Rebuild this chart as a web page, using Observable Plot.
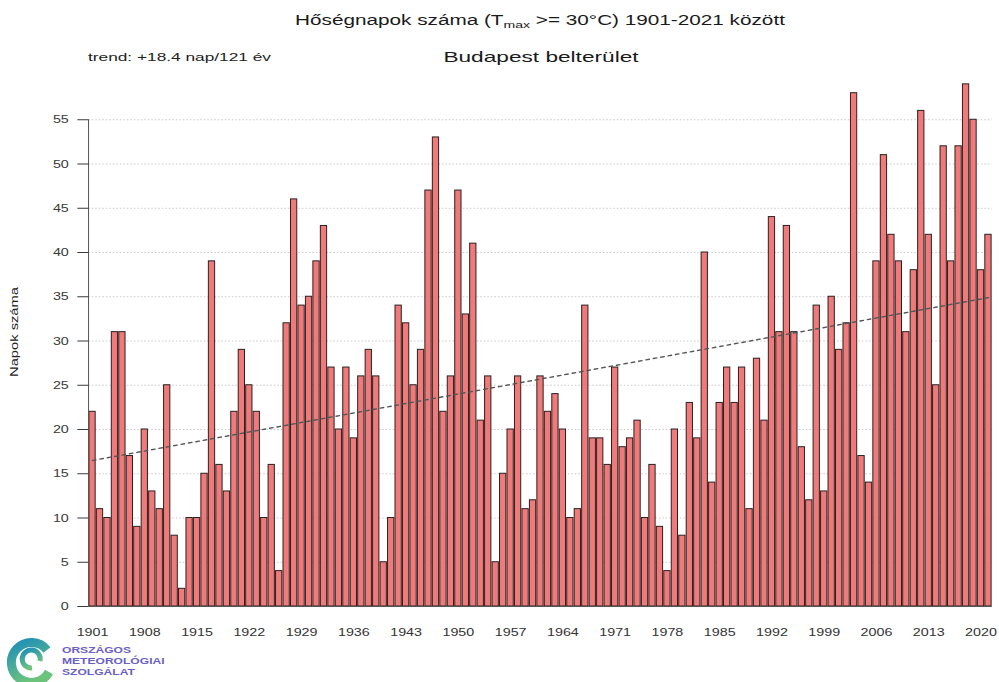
<!DOCTYPE html>
<html>
<head>
<meta charset="utf-8">
<script src="https://cdn.jsdelivr.net/npm/d3@7"></script>
<script src="https://cdn.jsdelivr.net/npm/@observablehq/plot@0.6"></script>
<style>
  html, body { margin: 0; padding: 0; background: #fff; }
  #wrap { position: relative; width: 999px; height: 682px; overflow: hidden; font-family: "Liberation Sans", Arial, sans-serif; }
  #chart { position: absolute; left: 0; top: 0; }
  .t { position: absolute; white-space: nowrap; color: #1a1a1a; }
  #title { left: 0; width: 1080px; text-align: center; top: 12px; font-size: 14px; transform: scaleX(1.48); transform-origin: 540px 0; }
  #title sub { font-size: 9.5px; vertical-align: -3px; line-height: 0; }
  #sub { left: 0; width: 1082px; text-align: center; top: 48px; font-size: 15px; transform: scaleX(1.51); transform-origin: 541px 0; }
  #trend { left: 88px; top: 51px; font-size: 11px; transform: scaleX(1.57); transform-origin: 0 0; color: #222; }
  #ylab { left: 14px; top: 332px; font-size: 10.5px; transform: translate(-50%, -50%) rotate(-90deg) scaleX(1.4); color: #222; }
  #logo { position: absolute; left: 3px; top: 638px; }
  #logotext { position: absolute; left: 62px; top: 645px; font-size: 9.5px; line-height: 10.8px; color: #6a60c4; font-weight: bold; transform: scaleX(1.27); transform-origin: 0 0; }
</style>
</head>
<body>
<div id="wrap">
  <div id="chart"></div>
  <div class="t" id="title">Hőségnapok száma (T<sub>max</sub> &gt;= 30°C) 1901-2021 között</div>
  <div class="t" id="sub">Budapest belterület</div>
  <div class="t" id="trend">trend: +18.4 nap/121 év</div>
  <div class="t" id="ylab">Napok száma</div>
  <svg id="logo" width="56" height="46" viewBox="0 0 56 46">
    <defs>
      <linearGradient id="lg" x1="0" y1="0" x2="0.4" y2="1">
        <stop offset="0" stop-color="#1f8fb8"/>
        <stop offset="1" stop-color="#6cc47c"/>
      </linearGradient>
    </defs>
    <path d="M44 12 A20 20 0 1 0 46 34" fill="none" stroke="url(#lg)" stroke-width="9"/>
    <path d="M37 23 A9 9 0 1 0 29 30" fill="none" stroke="url(#lg)" stroke-width="5"/>
  </svg>
  <div id="logotext">ORSZÁGOS<br>METEOROLÓGIAI<br>SZOLGÁLAT</div>
</div>
<script>
const years = d3.range(1901, 2022);
const days = [
  22, 11, 10, 31, 31, 17, 9, 20, 13, 11,
  25, 8, 2, 10, 10, 15, 39, 16, 13, 22,
  29, 25, 22, 10, 16, 4, 32, 46, 34, 35,
  39, 43, 27, 20, 27, 19, 26, 29, 26, 5,
  10, 34, 32, 25, 29, 47, 53, 22, 26, 47,
  33, 41, 21, 26, 5, 15, 20, 26, 11, 12,
  26, 22, 24, 20, 10, 11, 34, 19, 19, 16,
  27, 18, 19, 21, 10, 16, 9, 4, 20, 8,
  23, 19, 40, 14, 23, 27, 23, 27, 11, 28,
  21, 44, 31, 43, 31, 18, 12, 34, 13, 35,
  29, 32, 58, 17, 14, 39, 51, 42, 39, 31,
  38, 56, 42, 25, 52, 39, 52, 59, 55, 38,
  42
];
const trendYears = [1901, 2021];
const trendValues = [16.5, 34.9];
const xTickLabels = [1901, 1908, 1915, 1922, 1929, 1936, 1943, 1950, 1957, 1964, 1971, 1978, 1985, 1992, 1999, 2006, 2013, 2020];
const yTickLabels = [0, 5, 10, 15, 20, 25, 30, 35, 40, 45, 50, 55];

const data = years.map((year, i) => ({year, days: days[i]}));
const trend = trendYears.map((year, i) => ({year, v: trendValues[i]}));

const chart = Plot.plot({
  width: 999,
  height: 682,
  marginLeft: 88.3,
  marginRight: 7.3,
  marginTop: 75,
  marginBottom: 76,
  style: {fontFamily: "'Liberation Sans', Arial, sans-serif", background: "transparent"},
  x: {type: "band", domain: years, padding: 0, axis: null},
  y: {domain: [0, 60], axis: null},
  marks: [
    Plot.ruleY(yTickLabels.filter(d => d > 0), {stroke: "#c8c8c8", strokeDasharray: "1.5,2", strokeWidth: 1}),
    Plot.barY(data, {x: "year", y: "days", fill: "#f07a7a", stroke: "#2a2020", strokeWidth: 1, insetLeft: 0.6, insetRight: 0.6}),
    Plot.line(trend, {x: "year", y: "v", stroke: "#555", strokeWidth: 1.4, strokeDasharray: "3.5,4"}),
    Plot.ruleY([0], {stroke: "#555", strokeWidth: 1}),
    Plot.ruleX([1901], {y1: 0, y2: 55, dx: -4, stroke: "#555", strokeWidth: 1}),
    Plot.axisY({ticks: yTickLabels, tickSize: 11, tickPadding: 9, fontSize: 11, color: "#3a3a3a", label: null, ariaLabel: "yax"}),
    Plot.axisX({ticks: xTickLabels, tickFormat: d => String(d), tickSize: 0, tickPadding: 22, fontSize: 11, color: "#333", label: null, ariaLabel: "xax"})
  ]
});
// widen axis tick labels horizontally about their anchor point
chart.querySelectorAll('g[aria-label$="tick label"] text').forEach(t => {
  let tr = t.getAttribute("transform") || "";
  const x = t.getAttribute("x");
  if (x !== null && x.indexOf("em") < 0 && +x !== 0) {
    tr = `translate(${+x},0) ` + tr;
    t.removeAttribute("x");
  }
  t.setAttribute("transform", tr + " scale(1.3,1)");
});
document.getElementById("chart").appendChild(chart);
</script>
</body>
</html>
